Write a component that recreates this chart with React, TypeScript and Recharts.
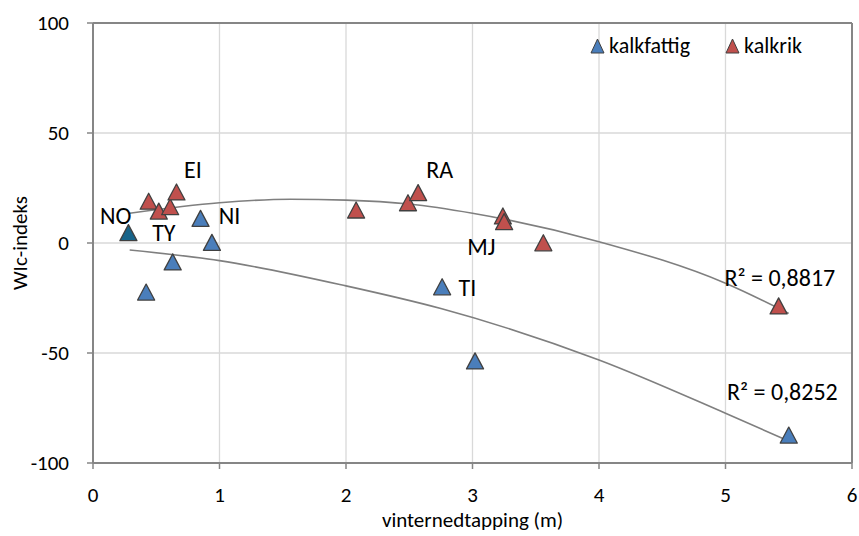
import { CartesianGrid, ComposedChart, Legend, Line, ReferenceLine, Scatter, XAxis, YAxis } from "recharts"

const FONT = "Carlito, Calibri, Lato, sans-serif"

// kalkfattig (blue)
const blueX = [0.42, 0.63, 0.85, 0.94, 2.76, 3.02, 5.5]
const blueY = [-22.3, -8.6, 11.2, 0.3, -19.9, -53.6, -87.3]
// NO point (darker teal)
const noX = [0.28]
const noY = [4.7]
// kalkrik (red)
const redX = [0.44, 0.52, 0.61, 0.66, 2.08, 2.49, 2.57, 3.24, 3.25, 3.56, 5.42]
const redY = [19.0, 14.5, 16.5, 23.2, 15.0, 18.3, 22.9, 12.3, 9.7, 0.1, -28.6]

// polynomial trend lines
const redTrendX = [0.29, 1.0, 1.56, 2.0, 2.5, 3.0, 4.0, 5.0, 5.5]
const redTrendY = [13.5, 18.3, 19.9, 19.5, 17.7, 13.5, 0.6, -18.3, -32]
const blueTrendX = [0.29, 1.0, 2.0, 2.75, 4.0, 5.0, 5.5]
const blueTrendY = [-3.2, -8.0, -19.5, -29.8, -53.2, -77.4, -90]

// text annotations (label, anchor in data units)
const noteText = ["NO", "TY", "EI", "NI", "RA", "MJ", "TI", "R² = 0,8817", "R² = 0,8252"]
const noteX = [0.18, 0.56, 0.79, 1.08, 2.74, 3.07, 2.96, 5.43, 5.45]
const noteY = [12.3, 5, 33.2, 12.3, 33.2, -1.8, -20, -15.5, -67.7]

const xTicks = [0, 1, 2, 3, 4, 5, 6]
const yTicks = [-100, -50, 0, 50, 100]

const zip = (xs: number[], ys: number[]) => xs.map((x, i) => ({ x, y: ys[i] }))

const blue = zip(blueX, blueY)
const no = zip(noX, noY)
const red = zip(redX, redY)
const redTrend = zip(redTrendX, redTrendY)
const blueTrend = zip(blueTrendX, blueTrendY)
const notes = noteText.map((name, i) => ({ name, x: noteX[i], y: noteY[i] }))

const Triangle = (props: any) => {
  const { cx, cy, fill } = props
  if (cx == null || cy == null) return null
  return (
    <polygon
      points={`${cx},${cy - 8} ${cx + 8.5},${cy + 8} ${cx - 8.5},${cy + 8}`}
      fill={fill}
      stroke="#404040"
      strokeWidth={1.3}
      strokeLinejoin="round"
    />
  )
}

const NoteText = (props: any) => {
  const { cx, cy, payload } = props
  return (
    <text x={cx} y={cy} textAnchor="middle" dominantBaseline="central" fontSize={24} fontFamily={FONT} fill="#000">
      {payload.name}
    </text>
  )
}

const LegendContent = (props: any) => {
  const items = (props.payload || []).filter((p: any) => p.value === "kalkfattig" || p.value === "kalkrik")
  return (
    <div style={{ display: "flex", fontFamily: FONT, fontSize: 22, color: "#000" }}>
      {items.map((it: any) => (
        <div key={it.value} style={{ display: "flex", alignItems: "center", width: 151 }}>
          <svg width={15} height={16} style={{ marginRight: 4 }}>
            <polygon points="7.5,1 14,15 1,15" fill={it.color} stroke="#404040" strokeWidth={1} />
          </svg>
          <span>{it.value}</span>
        </div>
      ))}
    </div>
  )
}

export default function App() {
  return (
    <div style={{ width: 859, height: 536, background: "#fff" }}>
      <style>{"body{margin:0}"}</style>
      <ComposedChart width={859} height={536} margin={{ top: 23, right: 7, left: 0, bottom: 0 }} style={{ fontFamily: FONT }}>
        <CartesianGrid stroke="#d9d9d9" strokeWidth={1.3} />
        <XAxis
          type="number"
          dataKey="x"
          domain={[0, 6]}
          ticks={xTicks}
          allowDataOverflow
          height={73}
          tickSize={6}
          tickMargin={18}
          axisLine={{ stroke: "#868686", strokeWidth: 2 }}
          tickLine={{ stroke: "#868686", strokeWidth: 1.5 }}
          tick={{ fill: "#000", fontSize: 21, fontFamily: FONT }}
          label={{ value: "vinternedtapping (m)", position: "insideBottom", offset: 9, fill: "#000", fontSize: 21, fontFamily: FONT }}
        />
        <YAxis
          type="number"
          dataKey="y"
          domain={[-100, 100]}
          ticks={yTicks}
          allowDataOverflow
          width={93}
          tickSize={6}
          tickMargin={18}
          axisLine={{ stroke: "#868686", strokeWidth: 2 }}
          tickLine={{ stroke: "#868686", strokeWidth: 1.5 }}
          tick={{ fill: "#000", fontSize: 21, fontFamily: FONT }}
          label={{
            value: "WIc-indeks",
            angle: -90,
            position: "insideLeft",
            offset: 20,
            fill: "#000",
            fontSize: 21,
            fontFamily: FONT,
            style: { textAnchor: "middle" },
          }}
        />
        <ReferenceLine y={100} stroke="#868686" strokeWidth={2} />
        <ReferenceLine x={6} stroke="#868686" strokeWidth={2} />
        <Legend
          layout="horizontal"
          verticalAlign="middle"
          align="center"
          content={LegendContent}
          wrapperStyle={{ top: 32, left: 590, width: 270 }}
        />
        <Scatter name="kalkfattig" data={blue} fill="#4a7ebb" shape={Triangle} isAnimationActive={false} />
        <Scatter name="kalkrik" data={red} fill="#c0504d" shape={Triangle} isAnimationActive={false} />
        <Scatter name="NO" data={no} fill="#17648a" shape={Triangle} legendType="none" isAnimationActive={false} />
        <Line
          data={redTrend}
          dataKey="y"
          type="monotone"
          stroke="#7f7f7f"
          strokeWidth={1.6}
          dot={false}
          activeDot={false}
          legendType="none"
          isAnimationActive={false}
        />
        <Line
          data={blueTrend}
          dataKey="y"
          type="monotone"
          stroke="#7f7f7f"
          strokeWidth={1.6}
          dot={false}
          activeDot={false}
          legendType="none"
          isAnimationActive={false}
        />
        <Scatter name="notes" data={notes} shape={NoteText} legendType="none" isAnimationActive={false} />
      </ComposedChart>
    </div>
  )
}
